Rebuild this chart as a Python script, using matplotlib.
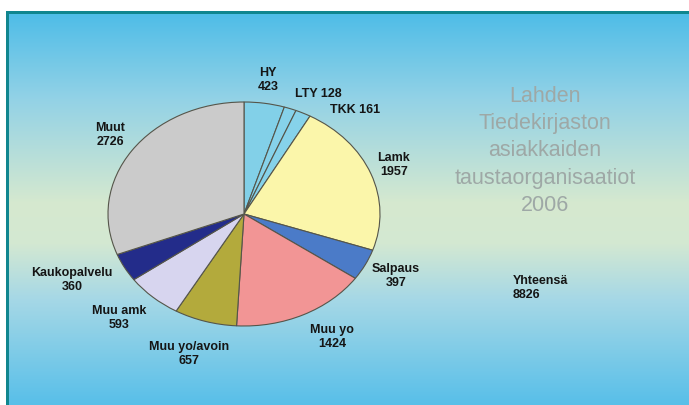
import matplotlib
matplotlib.use("Agg")
import matplotlib.pyplot as plt
from matplotlib.patches import Rectangle
import numpy as np

# data
names = ["HY", "LTY", "TKK", "Lamk", "Salpaus", "Muu yo", "Muu yo/avoin",
         "Muu amk", "Kaukopalvelu", "Muut"]
counts = [423, 128, 161, 1957, 397, 1424, 657, 593, 360, 2726]
one_line = ["LTY", "TKK"]
title_lines = ["Lahden", "Tiedekirjaston", "asiakkaiden",
               "taustaorganisaatiot", "2006"]
total_label = "Yhteensä"

colors = ["#82d0e8", "#86d2ea", "#86d2ea", "#fbf6aa", "#4b7bc8", "#f29595",
          "#b3aa3c", "#d7d5ef", "#232c8a", "#cbcbcb"]

# label centres in pixel space (x from left, y from top)
label_pos = [(268, 80), (318, 94), (355, 110), (394, 165), (396, 276),
             (332, 337), (189, 354), (119, 318), (72, 280), (110, 135)]

W, H = 689, 406
fig = plt.figure(figsize=(W / 100, H / 100), dpi=100)
fig.patch.set_facecolor("white")

#%% background: teal frame + vertical gradient
bg = fig.add_axes([0, 0, 1, 1])
bg.set_xlim(0, W)
bg.set_ylim(H, 0)
bg.axis("off")
bg.add_patch(Rectangle((6, 12), W, H, facecolor="#10868f", edgecolor="none"))

stops_y = [15, 100, 205, 245, 300, 406]
stops_c = np.array([[79, 189, 232], [147, 210, 230], [214, 233, 207],
                    [211, 232, 210], [166, 216, 230], [88, 191, 233]]) / 255
ys = np.arange(15, H + 1)
grad = np.stack([np.interp(ys, stops_y, stops_c[:, k]) for k in range(3)], axis=1)
bg.imshow(grad[:, None, :], extent=(9, W, H, 15), aspect="auto",
          interpolation="bilinear", zorder=1)

#%% pie (stretched horizontally like the original)
cx, cy, rx, ry = 244, 215, 136, 112
ax = fig.add_axes([(cx - rx) / W, (H - cy - ry) / H, 2 * rx / W, 2 * ry / H])
wedges, _ = ax.pie(counts, colors=colors, startangle=90, counterclock=False,
                   wedgeprops=dict(edgecolor="#55554a", linewidth=0.8))
for w in wedges:
    w.set_clip_on(False)
ax.set_aspect("auto")
ax.set_xlim(-1, 1)
ax.set_ylim(-1, 1)
ax.axis("off")

#%% labels
for name, val, (x, y) in zip(names, counts, label_pos):
    txt = f"{name} {val}" if name in one_line else f"{name}\n{val}"
    bg.text(x, y, txt, ha="center", va="center", fontsize=9,
            fontweight="bold", family="Liberation Sans", color="#151515",
            linespacing=1.25, zorder=5)

bg.text(513, 288, f"{total_label}\n{sum(counts)}", ha="left", va="center",
        fontsize=9, fontweight="bold", family="Liberation Sans",
        color="#151515", linespacing=1.25, zorder=5)

bg.text(545, 151, "\n".join(title_lines), ha="center", va="center",
        fontsize=15.5, family="Liberation Sans", color="#9ea8a6",
        linespacing=1.38, zorder=5)

fig.savefig("out.png", dpi=100)
